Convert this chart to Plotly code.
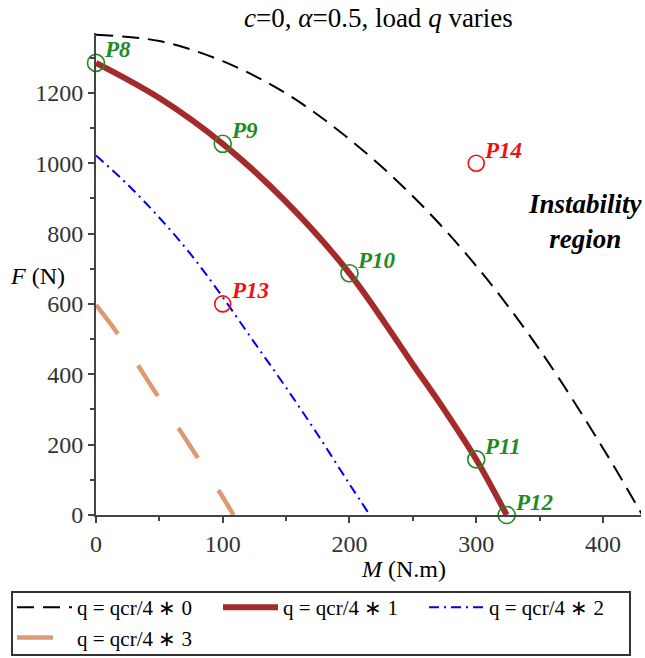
import plotly.graph_objects as go

# ---- data ----
M_q0 = [0, 50, 100, 150, 200, 250, 300, 350, 400, 431]
F_q0 = [1365, 1347, 1290, 1198, 1068, 906, 708, 470, 190, 0]

M_q1 = [0, 50, 100, 150, 200, 250, 275, 300, 324]
F_q1 = [1285, 1185, 1055, 890, 687, 428, 298, 158, 0]

M_q2 = [0, 25, 50, 75, 100, 125, 150, 175, 200, 216]
F_q2 = [1022, 939, 845, 740, 619, 490, 362, 228, 88, 0]

M_q3 = [0, 16, 25, 50, 66, 75, 99, 108.5]
F_q3 = [597, 521, 471, 331, 242, 192, 57, 0]

stable_names = ["P8", "P9", "P10", "P11", "P12"]
stable_M = [0, 100, 200, 300, 324]
stable_F = [1285, 1055, 687, 158, 0]

unstable_names = ["P13", "P14"]
unstable_M = [100, 300]
unstable_F = [600, 1000]

legend_names = ["q = qcr/4 \u2217 0", "q = qcr/4 \u2217 1", "q = qcr/4 \u2217 2", "q = qcr/4 \u2217 3"]
x_ticks = [0, 100, 200, 300, 400]
y_ticks = [0, 200, 400, 600, 800, 1000, 1200]

SERIF = "Liberation Serif"
GREEN = "#228b22"
RED = "#ee1111"

fig = go.Figure()
fig.add_trace(go.Scatter(x=M_q0, y=F_q0, mode="lines", name=legend_names[0],
                         line=dict(color="black", width=2, dash="17px,9px"), line_shape="spline"))
fig.add_trace(go.Scatter(x=M_q1, y=F_q1, mode="lines", name=legend_names[1],
                         line=dict(color="#a52a2a", width=6), line_shape="spline"))
fig.add_trace(go.Scatter(x=M_q2, y=F_q2, mode="lines", name=legend_names[2],
                         line=dict(color="#0000ee", width=2, dash="10px,5px,2px,5px"), line_shape="spline"))
fig.add_trace(go.Scatter(x=M_q3, y=F_q3, mode="lines", name=legend_names[3],
                         line=dict(color="#dc9a73", width=4.5, dash="36px,38px"), line_shape="spline"))

fig.add_trace(go.Scatter(x=stable_M, y=stable_F, mode="markers", showlegend=False, cliponaxis=False,
                         marker=dict(symbol="circle-open", size=17, color=GREEN, line=dict(width=1.6))))
fig.add_trace(go.Scatter(x=unstable_M, y=unstable_F, mode="markers", showlegend=False, cliponaxis=False,
                         marker=dict(symbol="circle-open", size=16, color=RED, line=dict(width=1.6))))

for names, xs, ys, col in [(stable_names, stable_M, stable_F, GREEN),
                           (unstable_names, unstable_M, unstable_F, RED)]:
    for n, xv, yv in zip(names, xs, ys):
        fig.add_annotation(x=xv, y=yv, xref="x", yref="y", showarrow=False,
                           text="<b><i>%s</i></b>" % n, xanchor="left", yanchor="middle",
                           xshift=6, yshift=13,
                           font=dict(family=SERIF, size=23, color=col))

fig.add_annotation(x=386, y=833, xref="x", yref="y", showarrow=False,
                   text="<b><i>Instability<br>region</i></b>",
                   font=dict(family=SERIF, size=27, color="black"))

# title
fig.add_annotation(x=(378 - 96) / 545, y=(515 - 18) / 482, xref="paper", yref="paper",
                   showarrow=False, text="<i>c</i>=0, <i>\u03b1</i>=0.5, load <i>q</i> varies",
                   font=dict(family=SERIF, size=27, color="black"), xanchor="center", yanchor="middle")
# axis titles
fig.add_annotation(x=(403 - 96) / 545, y=(515 - 569) / 482, xref="paper", yref="paper",
                   showarrow=False, text="<i>M</i> (N.m)",
                   font=dict(family=SERIF, size=24, color="black"), xanchor="center", yanchor="middle")
fig.add_annotation(x=(37 - 96) / 545, y=(515 - 276) / 482, xref="paper", yref="paper",
                   showarrow=False, text="<i>F</i> (N)",
                   font=dict(family=SERIF, size=24, color="black"), xanchor="center", yanchor="middle")

# legend frame
fig.add_shape(type="rect", xref="paper", yref="paper",
              x0=(12 - 96) / 545, x1=(630 - 96) / 545,
              y0=(515 - 655) / 482, y1=(515 - 592) / 482,
              line=dict(color="#333", width=2), fillcolor="rgba(0,0,0,0)")

fig.update_layout(
    width=645, height=658,
    margin=dict(l=96, r=4, t=33, b=143, autoexpand=False),
    paper_bgcolor="white", plot_bgcolor="white",
    font=dict(family=SERIF, size=24, color="#333"),
    showlegend=True,
    legend=dict(orientation="h", x=(12 - 96) / 545, y=(515 - 587) / 482,
                xanchor="left", yanchor="top", borderwidth=0, bgcolor="rgba(0,0,0,0)",
                font=dict(family=SERIF, size=21, color="black"),
                entrywidth=136, entrywidthmode="pixels", tracegroupgap=0, itemwidth=55),
)
fig.update_xaxes(range=[0, 430], tickvals=x_ticks, showgrid=False, zeroline=False,
                 showline=True, linecolor="#444", linewidth=2, ticks="outside", ticklen=6,
                 tickcolor="#444", tickwidth=1.5,
                 minor=dict(dtick=50, tick0=0, ticks="outside", ticklen=4, tickcolor="#444", showgrid=False),
                 tickfont=dict(family=SERIF, size=24, color="#333"))
fig.update_yaxes(range=[0, 1370], tickvals=y_ticks, showgrid=False, zeroline=False,
                 showline=True, linecolor="#444", linewidth=2, ticks="outside", ticklen=6,
                 tickcolor="#444", tickwidth=1.5,
                 minor=dict(dtick=100, tick0=0, ticks="outside", ticklen=4, tickcolor="#444", showgrid=False),
                 tickfont=dict(family=SERIF, size=24, color="#333"))

fig.write_html("out.html")
